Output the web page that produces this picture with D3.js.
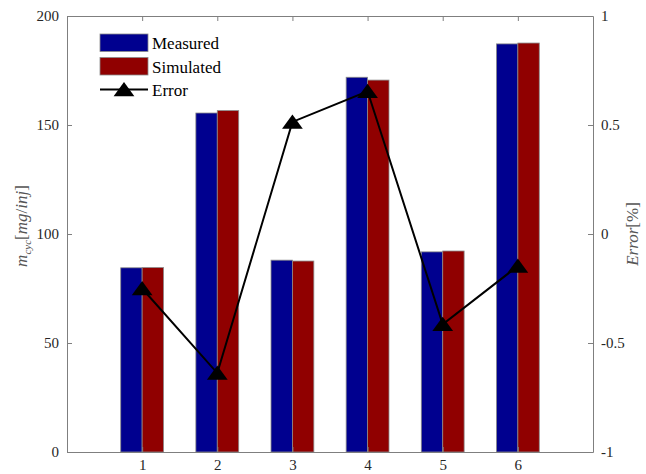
<!DOCTYPE html>
<html>
<head>
<meta charset="utf-8">
<script src="https://cdn.jsdelivr.net/npm/d3@7/dist/d3.min.js"></script>
<style>
  html, body { margin: 0; padding: 0; background: #fff; }
  svg text { font-family: "Liberation Serif", "DejaVu Serif", serif; }
</style>
</head>
<body>
<svg id="chart" width="646" height="474"></svg>
<script>
// Cases along the x axis
const cases = [1, 2, 3, 4, 5, 6];
// Injected mass per cycle [mg/inj]
const measured  = [84.5, 155.5, 88.0, 171.9, 91.8, 187.2];
const simulated = [84.6, 156.6, 87.6, 170.6, 92.2, 187.6];
// Relative error [%]
const errorPct  = [-0.25, -0.638, 0.514, 0.655, -0.414, -0.147];

const leftTicks  = [0, 50, 100, 150, 200];
const rightTicks = [-1, -0.5, 0, 0.5, 1];

const svg = d3.select("#chart");
const m = { left: 67, right: 53, top: 16, bottom: 22 };
const W = 646, H = 474;
const x0 = m.left, x1 = W - m.right, y0 = m.top, y1 = H - m.bottom;

const x  = d3.scaleLinear().domain([0, 7]).range([x0, x1]);
const yL = d3.scaleLinear().domain([0, 200]).range([y1, y0]);
const yR = d3.scaleLinear().domain([-1, 1]).range([y1, y0]);

const axisColor = "#7f7f7f";
const textColor = "#262626";
const barW = 0.285; // width of one bar in x units

// Bars
const g = svg.append("g");
g.selectAll("rect.meas").data(cases).join("rect")
  .attr("class", "meas")
  .attr("x", (d) => x(d - barW))
  .attr("width", (d) => x(d) - x(d - barW))
  .attr("y", (d, i) => yL(measured[i]))
  .attr("height", (d, i) => yL(0) - yL(measured[i]))
  .attr("fill", "#00008f")
  .attr("stroke", "#8a8a8a").attr("stroke-width", 0.8);
g.selectAll("rect.sim").data(cases).join("rect")
  .attr("class", "sim")
  .attr("x", (d) => x(d))
  .attr("width", (d) => x(d + barW) - x(d))
  .attr("y", (d, i) => yL(simulated[i]))
  .attr("height", (d, i) => yL(0) - yL(simulated[i]))
  .attr("fill", "#900000")
  .attr("stroke", "#8a8a8a").attr("stroke-width", 0.8);

// Axes
function styleAxis(sel) {
  sel.selectAll("path.domain").attr("stroke", axisColor).attr("stroke-width", 1);
  sel.selectAll(".tick line").attr("stroke", axisColor);
  sel.selectAll(".tick text").attr("fill", textColor).attr("font-size", 15)
    .attr("font-family", "Liberation Serif, DejaVu Serif, serif");
}

const axBottom = svg.append("g").attr("transform", `translate(0,${y1})`)
  .call(d3.axisBottom(x).tickValues(cases).tickFormat(d3.format("d"))
    .tickSizeInner(-5).tickSizeOuter(0).tickPadding(7));
styleAxis(axBottom);

const axTop = svg.append("g").attr("transform", `translate(0,${y0})`)
  .call(d3.axisTop(x).tickValues(cases).tickFormat("")
    .tickSizeInner(-5).tickSizeOuter(0));
styleAxis(axTop);

const axLeft = svg.append("g").attr("transform", `translate(${x0},0)`)
  .call(d3.axisLeft(yL).tickValues(leftTicks).tickFormat(d3.format("d"))
    .tickSizeInner(-5).tickSizeOuter(0).tickPadding(8));
styleAxis(axLeft);

const axRight = svg.append("g").attr("transform", `translate(${x1},0)`)
  .call(d3.axisRight(yR).tickValues(rightTicks).tickFormat((d) => String(d))
    .tickSizeInner(-5).tickSizeOuter(0).tickPadding(8));
styleAxis(axRight);

// Error line with triangle markers
const line = d3.line().x((d, i) => x(cases[i])).y((d) => yR(d));
svg.append("path").datum(errorPct)
  .attr("d", line).attr("fill", "none")
  .attr("stroke", "#000").attr("stroke-width", 2);

const tri = d3.symbol().type(d3.symbolTriangle).size(160);
svg.selectAll("path.mk").data(errorPct).join("path")
  .attr("class", "mk")
  .attr("transform", (d, i) => `translate(${x(cases[i])},${yR(d) + 2}) scale(1.08,0.86)`)
  .attr("d", tri).attr("fill", "#000");

// Axis titles
const lt = svg.append("text")
  .attr("transform", `translate(27,${(y0 + y1) / 2 - 8}) rotate(-90)`)
  .attr("text-anchor", "middle").attr("fill", "#555").attr("font-size", 17);
lt.append("tspan").attr("font-style", "italic").text("m");
lt.append("tspan").attr("font-style", "italic").attr("font-size", 11).attr("dy", 4).text("cyc");
lt.append("tspan").attr("dy", -4).text("[");
lt.append("tspan").attr("font-style", "italic").text("mg");
lt.append("tspan").text("/");
lt.append("tspan").attr("font-style", "italic").text("inj");
lt.append("tspan").text("]");

const rt = svg.append("text")
  .attr("transform", `translate(638,${(y0 + y1) / 2}) rotate(-90)`)
  .attr("text-anchor", "middle").attr("fill", "#555").attr("font-size", 17);
rt.append("tspan").attr("font-style", "italic").text("Error");
rt.append("tspan").text("[%]");

// Legend
const legend = [
  { label: "Measured", type: "bar", color: "#00008f" },
  { label: "Simulated", type: "bar", color: "#900000" },
  { label: "Error", type: "line" }
];
const lg = svg.append("g").attr("transform", "translate(100,34)");
legend.forEach((d, i) => {
  const row = lg.append("g").attr("transform", `translate(0,${i * 23.5})`);
  if (d.type === "bar") {
    row.append("rect").attr("x", 0).attr("y", 0).attr("width", 48).attr("height", 17.5)
      .attr("fill", d.color).attr("stroke", "#8a8a8a").attr("stroke-width", 0.8);
  } else {
    row.append("line").attr("x1", 0).attr("x2", 48).attr("y1", 8.5).attr("y2", 8.5)
      .attr("stroke", "#000").attr("stroke-width", 2);
    row.append("path").attr("d", tri)
      .attr("transform", "translate(24,10.5) scale(1.08,0.86)").attr("fill", "#000");
  }
  row.append("text").attr("x", 52).attr("y", 15)
    .attr("font-size", 17).attr("fill", "#000").text(d.label);
});
</script>
</body>
</html>
